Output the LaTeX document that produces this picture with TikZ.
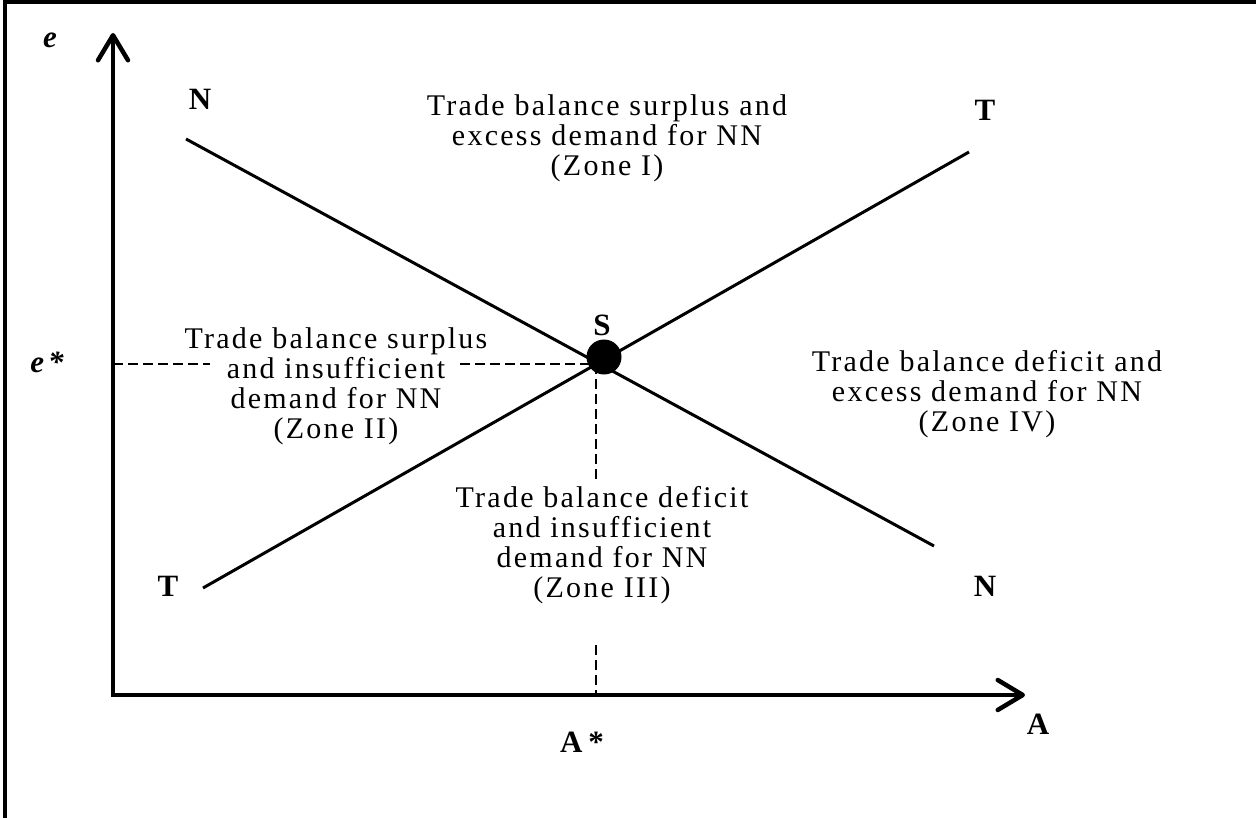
\documentclass[tikz,border=0pt]{standalone}
\usepackage{fontspec}
\setmainfont{Liberation Serif}
\newfontfamily\zonefont[LetterSpace=7.5]{Liberation Serif}
\usetikzlibrary{arrows.meta}
\begin{document}
\begin{tikzpicture}[x=1pt,y=-1pt,
  axis/.style={line width=4.5pt, line join=miter, {Straight Barb[length=25pt,width=30pt,round]}-{Straight Barb[length=25pt,width=30pt,round]}},
  curveline/.style={line width=3pt},
  guide/.style={line width=1.5pt, dash pattern=on 10pt off 5pt},
  zone/.style={align=center, inner sep=0pt, anchor=north, font=\zonefont\fontsize{30}{30}\selectfont},
  lbl/.style={inner sep=0pt, font=\fontsize{31}{36}\selectfont\bfseries},
  ]
\useasboundingbox (0,0) rectangle (1256,818);
% frame
\coordinate (f1) at (5,818);
\coordinate (f2) at (5,2);
\coordinate (f3) at (1256,2);
\draw[line width=4pt] (f1) -- (f2) -- (f3);
% axes
\coordinate (O) at (113,695);
\coordinate (Ytip) at (113,33);
\coordinate (Xtip) at (1025,695);
\draw[axis] (Ytip) -- (O) -- (Xtip);
% guides
\coordinate (E) at (596,364);
\coordinate (ey) at (113,364);
\coordinate (g1) at (210,364);
\coordinate (g2) at (460,364);
\coordinate (ax) at (596,695);
\coordinate (v1) at (596,480);
\coordinate (v2) at (596,645);
\draw[guide] (ey) -- (g1);
\draw[guide] (g2) -- (E);
\draw[guide] (E) -- (v1);
\draw[guide] (v2) -- (ax);
% curves
\coordinate (N1) at (186,139);
\coordinate (N2) at (934,546);
\coordinate (T1) at (203,588);
\coordinate (T2) at (969,152);
\draw[curveline] (N1) -- (N2);
\draw[curveline] (T1) -- (T2);
\node[circle, fill=black, minimum size=35pt, inner sep=0pt] (S) at (604,357) {};
% labels
\node[lbl, anchor=base] (Nul) at (200,110) {N};
\node[lbl] (Tur) at (985,110) {T};
\node[lbl] (Tll) at (168,586) {T};
\node[lbl] (Nlr) at (985,586) {N};
\node[lbl, anchor=base] (Sl) at (602,336) {S};
\node[lbl, anchor=base, font=\fontsize{31}{36}\selectfont\bfseries\itshape] (el) at (50,48) {e};
\node[lbl, anchor=base, font=\fontsize{31}{36}\selectfont\bfseries\itshape] (esl) at (47,373) {e\hspace{4pt}*};
\node[lbl, anchor=base] (Al) at (1038,734) {A};
\node[lbl, anchor=base] (Asl) at (582,752) {A\hspace{6pt}*};
% zones (north = first baseline - 20.5)
\node[zone] (z1) at (607,94.5) {Trade balance surplus and\\excess demand for NN\\(Zone I)};
\node[zone] (z2) at (336,327.5) {Trade balance surplus\\and insufficient\\demand for NN\\(Zone II)};
\node[zone] (z3) at (602,486.5) {Trade balance deficit\\and insufficient\\demand for NN\\(Zone III)};
\node[zone] (z4) at (987,350.5) {Trade balance deficit and\\excess demand for NN\\(Zone IV)};
\end{tikzpicture}
\end{document}
